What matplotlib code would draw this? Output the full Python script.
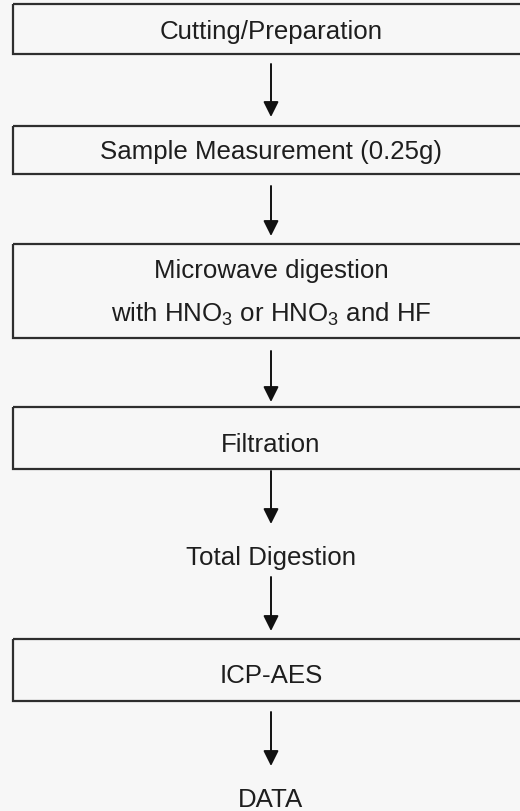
import matplotlib.pyplot as plt
from matplotlib.patches import Rectangle

plt.rcParams["font.family"] = ["Liberation Sans", "DejaVu Sans"]
plt.rcParams["mathtext.fontset"] = "custom"
plt.rcParams["mathtext.rm"] = "Liberation Sans"
plt.rcParams["mathtext.default"] = "regular"

# flowchart steps (top to bottom)
steps = [
    "Cutting/Preparation",
    "Sample Measurement (0.25g)",
    "Microwave digestion\nwith HNO$_3$ or HNO$_3$ and HF",
    "Filtration",
    "Total Digestion",
    "ICP-AES",
    "DATA",
]
boxed = [True, True, True, True, False, True, False]

# layout in pixels (y grows downwards)
box_top = [5, 127, 245, 408, None, 640, None]
box_bottom = [55, 175, 339, 470, None, 702, None]
text_y = [32, 152, 293, 445, 558, 676, 800]
arrow_start = [65, 187, 352, 472, 578, 713]
arrow_end = [118, 237, 403, 525, 632, 767]
line_gap = 43

W, H = 520, 812
bg = "#f7f7f7"
ink = "#2e2e2e"
x_mid = 271

fig = plt.figure(figsize=(W / 100, H / 100), dpi=100, facecolor=bg)
ax = fig.add_axes([0, 0, 1, 1])
ax.set_xlim(0, W)
ax.set_ylim(H, 0)
ax.axis("off")
ax.set_facecolor(bg)

for i, label in enumerate(steps):
    if boxed[i]:
        ax.add_patch(Rectangle((13, box_top[i]), 520, box_bottom[i] - box_top[i],
                               fill=False, edgecolor=ink, lw=1.6))
    lines = label.split("\n")
    y0 = text_y[i] - line_gap * (len(lines) - 1) / 2
    for k, line in enumerate(lines):
        ax.text(x_mid, y0 + k * line_gap, line, ha="center", va="center",
                fontsize=18.6, color="#1e1e1e")

for y0, y1 in zip(arrow_start, arrow_end):
    ax.annotate("", xy=(x_mid, y1), xytext=(x_mid, y0),
                arrowprops=dict(arrowstyle="-|>", color="#111111", lw=1.4,
                                mutation_scale=23, shrinkA=0, shrinkB=0))

fig.savefig("out.png", dpi=100, facecolor=bg)
